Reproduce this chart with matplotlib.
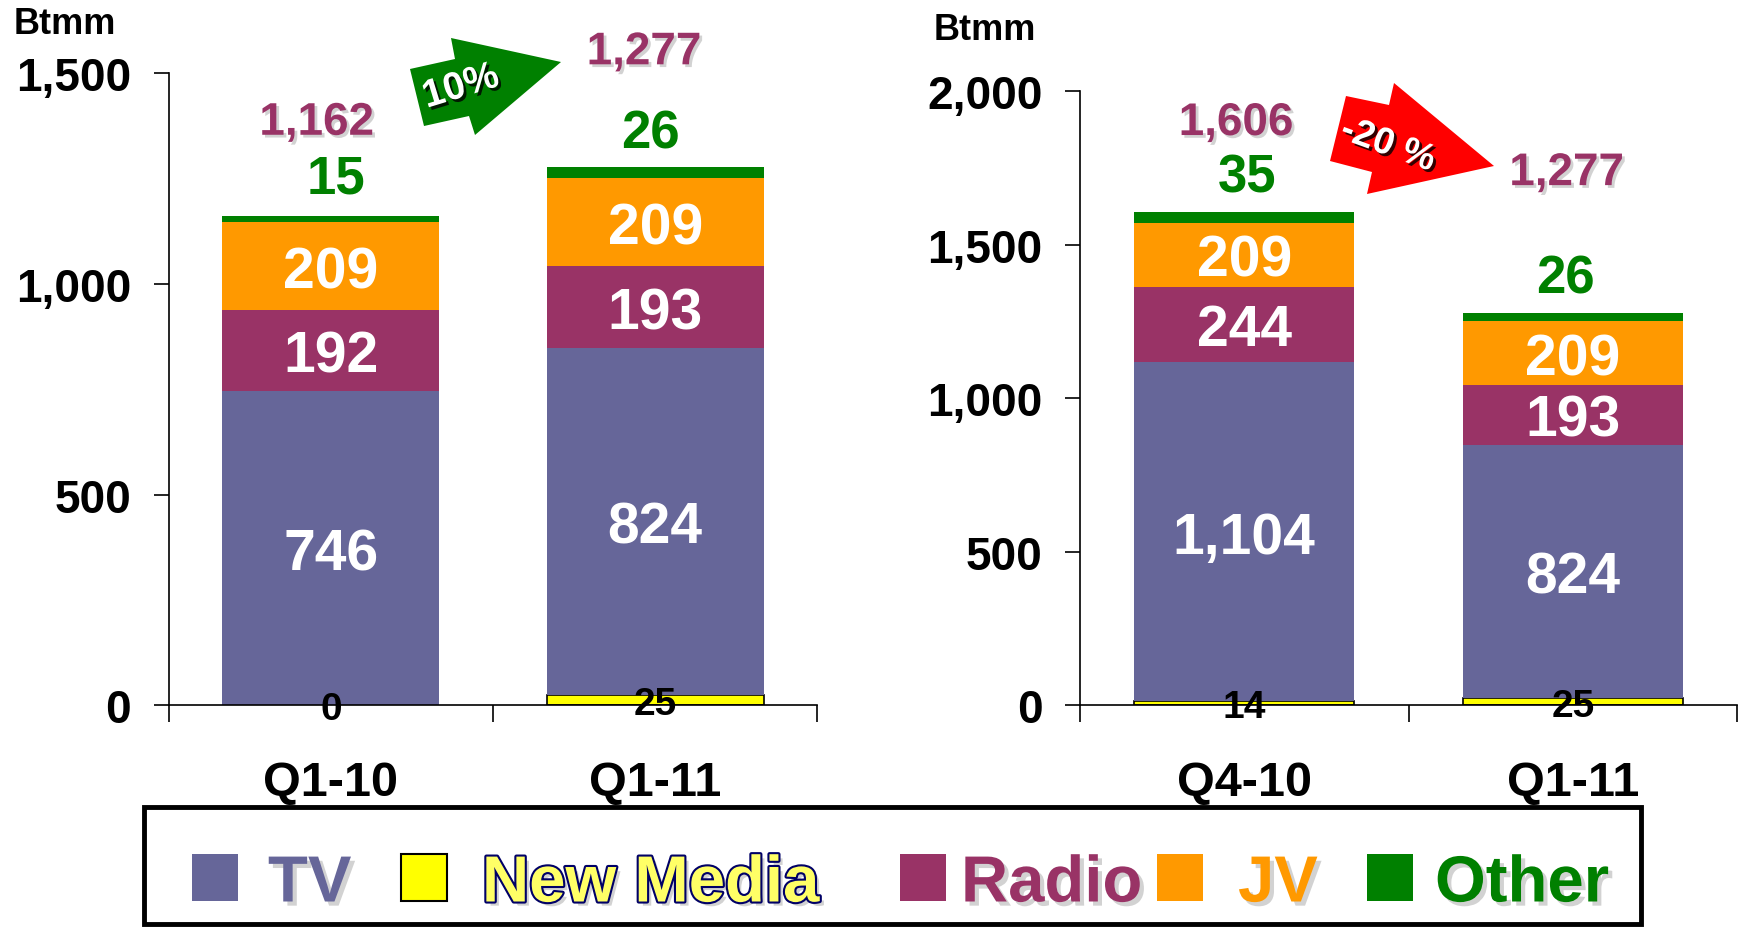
import numpy as np
import matplotlib.pyplot as plt
import matplotlib.patches as mpatches
import matplotlib.patheffects as pe

plt.rcParams['font.family'] = ['Liberation Sans', 'DejaVu Sans']
plt.rcParams['font.weight'] = 'bold'

# stacked from bottom to top: New Media, TV, Radio, JV, Other
left_quarters = ['Q1-10', 'Q1-11']
left_newmedia = [0, 25]
left_tv = [746, 824]
left_radio = [192, 193]
left_jv = [209, 209]
left_other = [15, 26]
left_total = [1162, 1277]

right_quarters = ['Q4-10', 'Q1-11']
right_newmedia = [14, 25]
right_tv = [1104, 824]
right_radio = [244, 193]
right_jv = [209, 209]
right_other = [35, 26]
right_total = [1606, 1277]

left_change = '10%'
right_change = '-20 %'

legend_names = ['TV', 'New Media', 'Radio', 'JV', 'Other']

C_TV = '#666699'
C_NM = '#FFFF00'
C_RADIO = '#993366'
C_JV = '#FF9900'
C_OTHER = '#008000'

W, H = 1739, 928
fig = plt.figure(figsize=(W / 100, H / 100), dpi=100)
fig.patch.set_facecolor('white')

shadow = [pe.SimplePatchShadow(offset=(2, -2), shadow_rgbFace='#808080', alpha=0.35), pe.Normal()]


def draw_panel(ax, quarters, nm, tv, radio, jv, other, total, ymax, step,
               total_off, other_off):
    x = np.arange(len(quarters)) + 0.5
    nm = np.array(nm)
    tv = np.array(tv)
    radio = np.array(radio)
    jv = np.array(jv)
    other = np.array(other)
    width = 0.67

    b0 = np.zeros(len(x))
    ax.bar(x, nm, width, bottom=b0, color=C_NM, edgecolor='black', linewidth=1.2, zorder=2)
    b1 = b0 + nm
    ax.bar(x, tv, width, bottom=b1, color=C_TV, zorder=2)
    b2 = b1 + tv
    ax.bar(x, radio, width, bottom=b2, color=C_RADIO, zorder=2)
    b3 = b2 + radio
    ax.bar(x, jv, width, bottom=b3, color=C_JV, zorder=2)
    b4 = b3 + jv
    ax.bar(x, other, width, bottom=b4, color=C_OTHER, zorder=2)
    top = b4 + other

    va = 'center_baseline'
    for i in range(len(x)):
        ax.text(x[i], b0[i] + nm[i] / 2, f'{nm[i]:,}', ha='center', va=va,
                fontsize=28, color='black', zorder=5)
        ax.text(x[i], b1[i] + tv[i] / 2, f'{tv[i]:,}', ha='center', va=va,
                fontsize=41, color='white', zorder=5)
        ax.text(x[i], b2[i] + radio[i] / 2, f'{radio[i]:,}', ha='center', va=va,
                fontsize=41, color='white', zorder=5)
        ax.text(x[i], b3[i] + jv[i] / 2, f'{jv[i]:,}', ha='center', va=va,
                fontsize=41, color='white', zorder=5)
        ax.annotate(f'{other[i]:,}', xy=(x[i], top[i]), xytext=other_off[i],
                    textcoords='offset pixels', ha='center', va=va,
                    fontsize=38, color=C_OTHER, annotation_clip=False, zorder=5)
        ax.annotate(f'{total[i]:,}', xy=(x[i], top[i]), xytext=total_off[i],
                    textcoords='offset pixels', ha='center', va=va,
                    fontsize=33, color=C_RADIO, annotation_clip=False, zorder=5,
                    path_effects=shadow)

    ax.set_xlim(0, len(x))
    ax.set_ylim(0, ymax)
    ax.set_yticks(np.arange(0, ymax + 1, step))
    ax.set_yticklabels([f'{v:,}' for v in np.arange(0, ymax + 1, step)], fontsize=33)
    ax.set_xticks(np.arange(len(x) + 1))
    ax.set_xticklabels([])
    ax.set_xticks(x, minor=True)
    ax.set_xticklabels(quarters, minor=True, fontsize=35)
    ax.tick_params(axis='y', direction='out', length=11, width=1.2, pad=16)
    ax.tick_params(axis='x', which='major', direction='out', length=12, width=1.2)
    ax.tick_params(axis='x', which='minor', length=0, pad=39)
    for s in ['top', 'right']:
        ax.spines[s].set_visible(False)
    for s in ['left', 'bottom']:
        ax.spines[s].set_linewidth(1.2)
    ax.set_facecolor('none')


ax1 = fig.add_axes([0.0970, 0.2387, 0.3730, 0.6812])
draw_panel(ax1, left_quarters, left_newmedia, left_tv, left_radio, left_jv, left_other,
           left_total, 1500, 500,
           total_off=[(-14, 98), (-11, 120)], other_off=[(5, 43), (-5, 39)])

ax2 = fig.add_axes([0.6210, 0.2387, 0.3779, 0.6622])
draw_panel(ax2, right_quarters, right_newmedia, right_tv, right_radio, right_jv, right_other,
           right_total, 2000, 500,
           total_off=[(-8, 94), (-6, 145)], other_off=[(3, 40), (-7, 40)])

fig.text(14 / W, 1 - 24 / H, 'Btmm', fontsize=26, ha='left', va='center')
fig.text(934 / W, 1 - 31 / H, 'Btmm', fontsize=26, ha='left', va='center')

# overlay in pixel coordinates for arrows and legend box
ov = fig.add_axes([0, 0, 1, 1], zorder=10)
ov.set_xlim(0, W)
ov.set_ylim(H, 0)
ov.axis('off')

green_arrow = [(410, 70), (455, 60), (451, 39), (561, 63), (475, 136), (469, 117), (424, 127)]
red_arrow = [(1346, 97), (1389, 106), (1394, 84), (1494, 167), (1367, 195), (1372, 173), (1330, 162)]
ov.add_patch(mpatches.Polygon(green_arrow, closed=True, color=C_OTHER, lw=0))
ov.add_patch(mpatches.Polygon(red_arrow, closed=True, color='#FF0000', lw=0))
txt_shadow = [pe.SimplePatchShadow(offset=(2, -2), shadow_rgbFace='black', alpha=0.8), pe.Normal()]
ov.text(461, 88, left_change, fontsize=28, color='white', rotation=17,
        ha='center', va='center', path_effects=txt_shadow)
ov.text(1388, 146, right_change, fontsize=27, color='white', rotation=-20,
        ha='center', va='center', path_effects=txt_shadow)

# legend box
ov.add_patch(mpatches.Rectangle((144, 808), 1497, 117, fill=False, edgecolor='black', lw=3.5))
sq_x = [192, 401, 900, 1157, 1367]
tx_x = [268, 482, 961, 1238, 1435]
sq_colors = [C_TV, C_NM, C_RADIO, C_JV, C_OTHER]
tx_colors = [C_TV, '#FFFF66', C_RADIO, C_JV, C_OTHER]
for i, name in enumerate(legend_names):
    ov.add_patch(mpatches.Rectangle((sq_x[i], 855), 46, 47, facecolor=sq_colors[i],
                                    edgecolor='black' if name == 'New Media' else 'none', lw=1.5))
    effects = [pe.SimplePatchShadow(offset=(3, -3), shadow_rgbFace='#808080', alpha=0.35)]
    if name == 'New Media':
        effects += [pe.Stroke(linewidth=3, foreground='#000066')]
    effects += [pe.Normal()]
    ov.text(tx_x[i], 879, name, fontsize=47, color=tx_colors[i], ha='left', va='center_baseline',
            path_effects=effects)

fig.savefig('out.png', dpi=100, facecolor='white')
